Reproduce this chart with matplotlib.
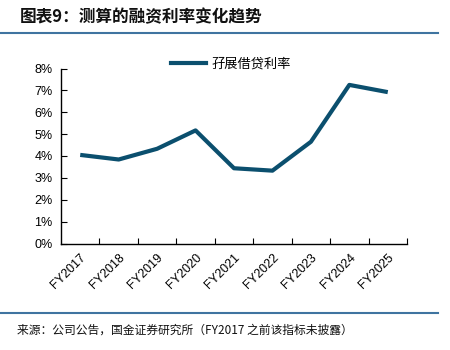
import matplotlib
matplotlib.use("Agg")
import matplotlib.pyplot as plt
import numpy as np
from matplotlib.lines import Line2D
from matplotlib.ticker import FuncFormatter

plt.rcParams["font.family"] = ["Noto Sans CJK SC", "DejaVu Sans"]

# 数据
years = ["FY2017", "FY2018", "FY2019", "FY2020", "FY2021",
         "FY2022", "FY2023", "FY2024", "FY2025"]
rates = [4.05, 3.84, 4.33, 5.17, 3.44, 3.33, 4.65, 7.25, 6.92]
series_name = "孖展借贷利率"

title = "图表9：测算的融资利率变化趋势"
source = "来源：公司公告，国金证券研究所（FY2017 之前该指标未披露）"

line_color = "#0b4f6e"
rule_color = "#3f74a0"

fig = plt.figure(figsize=(4.5, 3.5), dpi=100)
ax = fig.add_axes([61 / 450, 106.5 / 350, 346 / 450, 175 / 350])

x = np.arange(len(years)) + 0.5
ax.plot(x, rates, color=line_color, linewidth=3.0, solid_capstyle="butt")

ax.set_xlim(0, len(years))
ax.set_ylim(0, 8)

# 坐标轴
ax.spines["top"].set_visible(False)
ax.spines["right"].set_visible(False)
for s in ("left", "bottom"):
    ax.spines[s].set_linewidth(1.0)
    ax.spines[s].set_color("black")

ax.set_yticks(np.arange(0, 9, 1))
ax.yaxis.set_major_formatter(FuncFormatter(lambda v, p: f"{v:.0f}%"))
ax.tick_params(axis="y", direction="in", length=4, width=0.8, pad=6)

ax.set_xticks(np.arange(1, len(years) + 1))
ax.set_xticklabels([])
ax.tick_params(axis="x", which="major", direction="in", length=4, width=0.8)
ax.set_xticks(x, minor=True)
ax.set_xticklabels(years, minor=True, rotation=45, ha="right", va="top",
                   rotation_mode="anchor")
ax.tick_params(axis="x", which="minor", length=0, pad=6)

for lab in ax.get_yticklabels() + ax.get_xticklabels(minor=True):
    lab.set_fontfamily("Liberation Sans")
    lab.set_fontsize(9)

# 图例
handle = Line2D([], [], color=line_color, linewidth=3.0)
fig.legend([handle], [series_name], loc="center", bbox_to_anchor=(231 / 450, 1 - 64 / 350),
           frameon=False, fontsize=9.5, handlelength=2.6, handletextpad=0.4)

# 标题与来源
fig.text(20 / 450, 1 - 17 / 350, title, fontsize=12, fontweight="bold",
         style="italic", ha="left", va="center", color="#111111")
fig.add_artist(Line2D([0, 438 / 450], [1 - 33 / 350] * 2, color=rule_color, linewidth=1.5))
fig.add_artist(Line2D([0, 438 / 450], [1 - 313 / 350] * 2, color=rule_color, linewidth=1.5))
fig.text(17 / 450, 1 - 330 / 350, source, fontsize=8.5, ha="left", va="center",
         color="#111111")

fig.savefig("out.png", dpi=100)
